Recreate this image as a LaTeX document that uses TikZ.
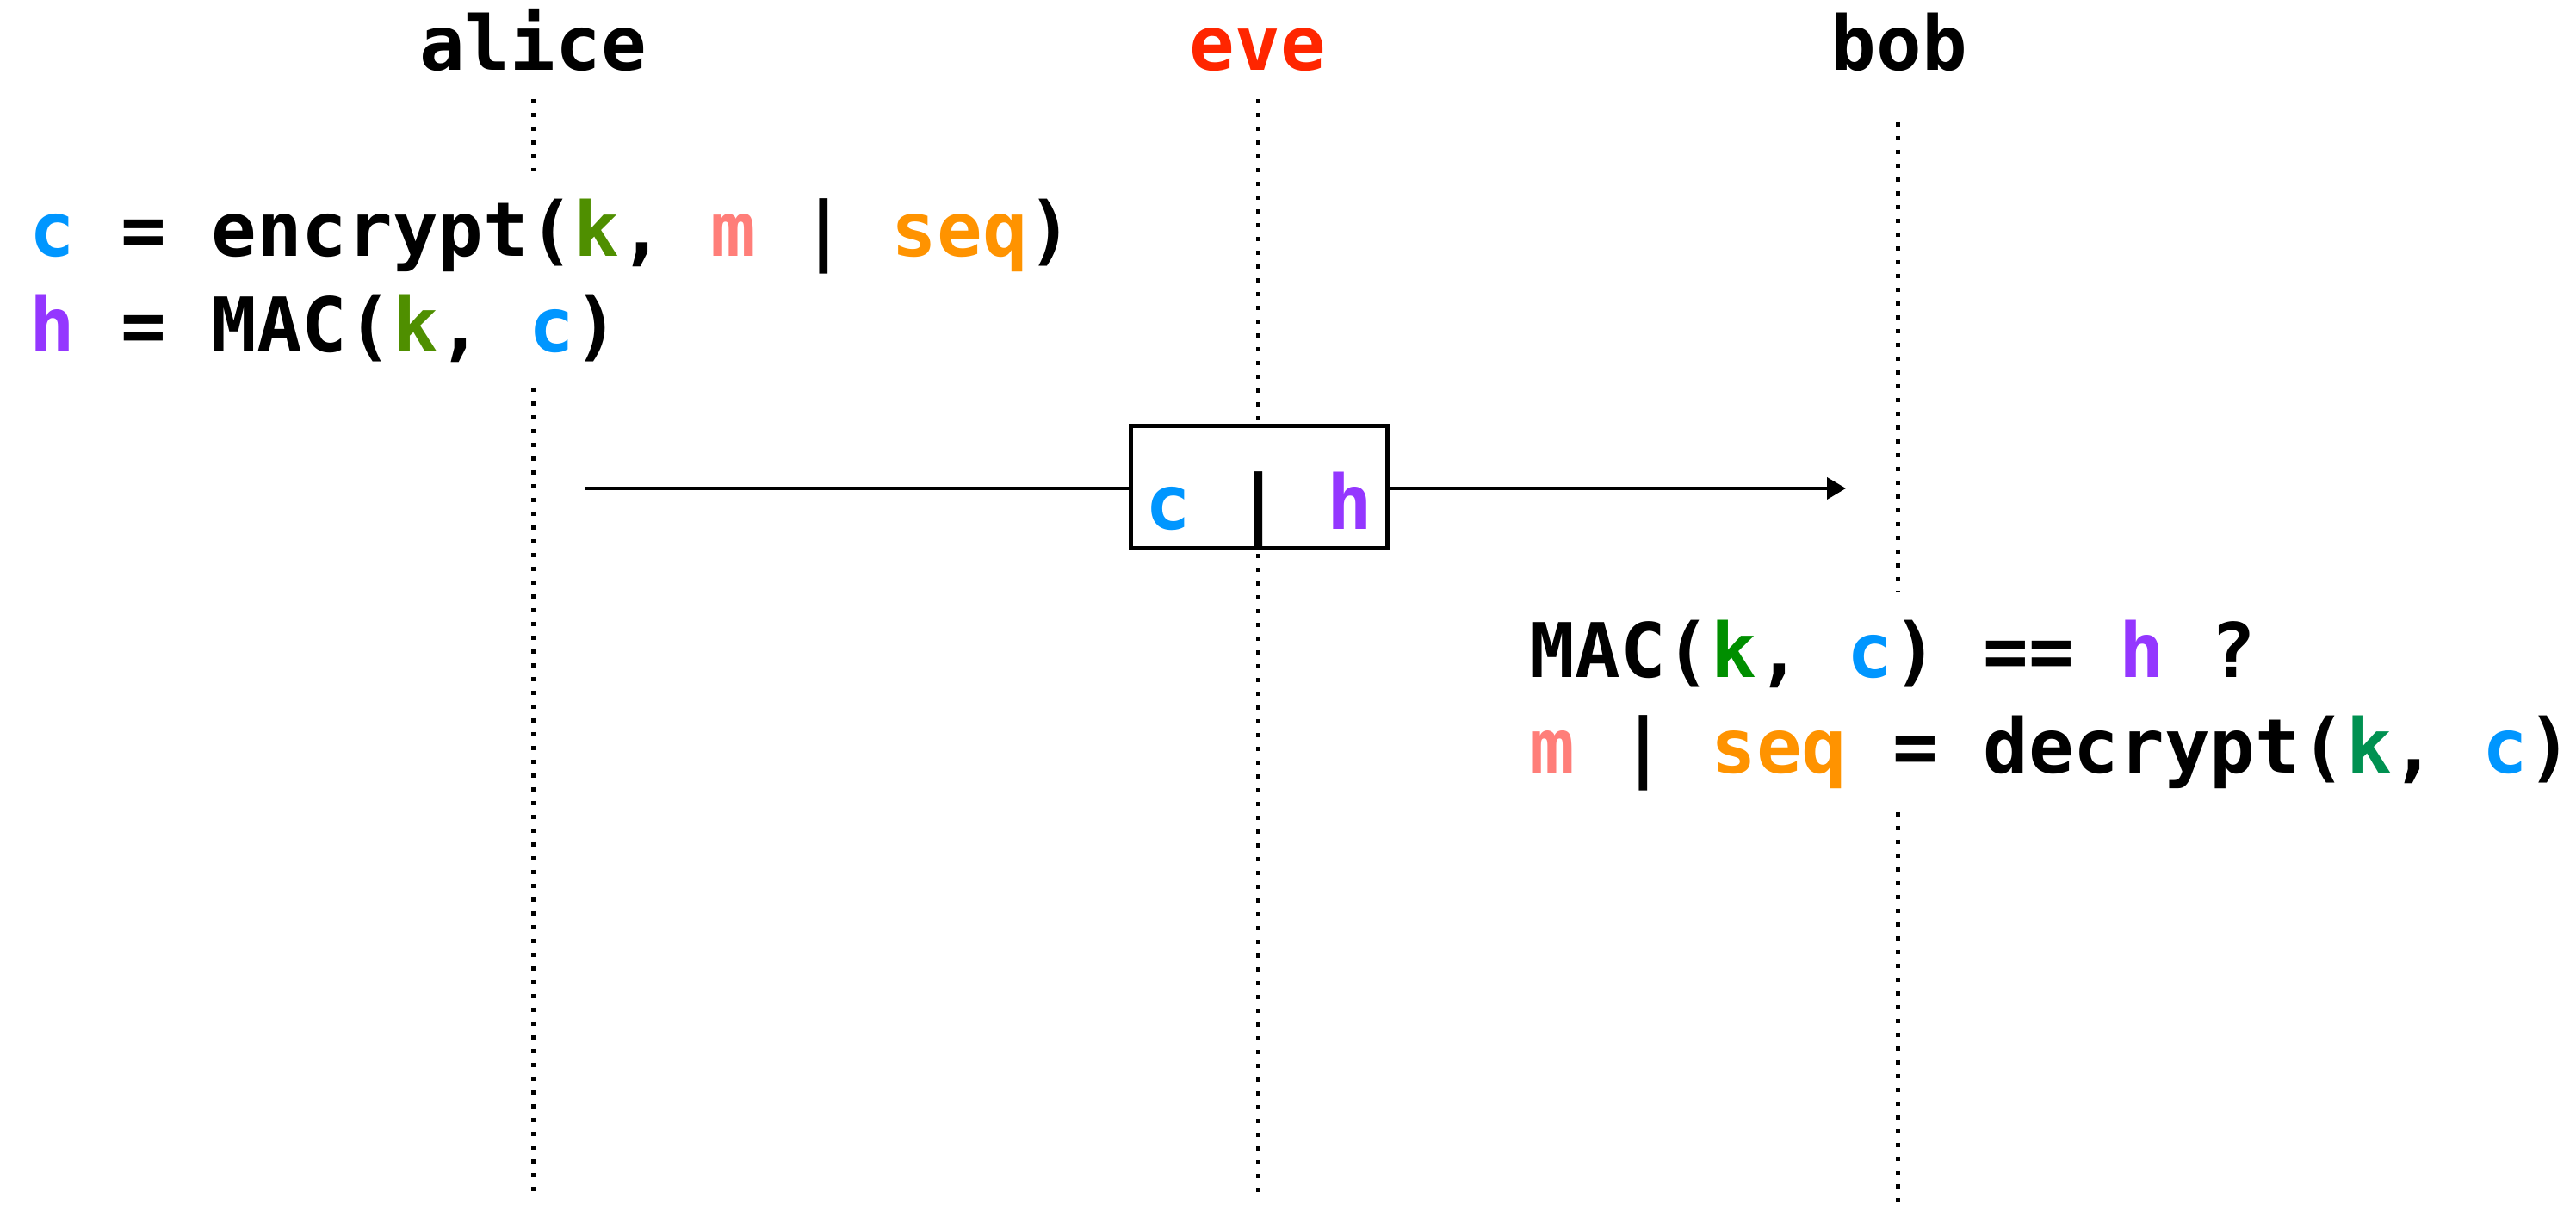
\documentclass[tikz,border=0pt]{standalone}
\usepackage{fontspec}
\setmonofont{DejaVu Sans Mono}
\usetikzlibrary{arrows.meta}

\definecolor{cblue}{RGB}{0,150,255}
\definecolor{hpurple}{RGB}{148,55,255}
\definecolor{kolive}{RGB}{79,143,0}
\definecolor{kgreen}{RGB}{0,143,0}
\definecolor{kteal}{RGB}{0,145,81}
\definecolor{msalmon}{RGB}{255,126,121}
\definecolor{seqorange}{RGB}{255,147,0}
\definecolor{evered}{RGB}{255,38,0}

\tikzset{
  code/.style={font=\ttfamily\bfseries\fontsize{24.9}{31.6}\selectfont, inner sep=0pt},
  lifeline/.style={line width=0.05cm, dash pattern=on 0.05cm off 0.11cm},
  msg/.style={line width=0.04cm, -{Triangle[length=0.22cm,width=0.25cm]}},
  packet/.style={code, draw, line width=0.05cm, fill=white, minimum width=2.98cm,
    minimum height=1.42cm, text height=1.1cm, text depth=0.12cm},
}

\begin{document}
\begin{tikzpicture}
    \useasboundingbox (0,0) rectangle (29.92,14.06);

    % Nodes
    \node[code, anchor=base] (A) at (6.19,13.24) {alice};
    \node[code, anchor=base, text=evered] (E) at (14.61,13.24) {eve};
    \node[code, anchor=base] (B) at (22.06,13.24) {bob};

    \node[code, anchor=base west] (enc) at (0.34,11.08)
      {\textcolor{cblue}{c} = encrypt(\textcolor{kolive}{k}, \textcolor{msalmon}{m} | \textcolor{seqorange}{seq})};
    \node[code, anchor=base west] (mac) at (0.34,9.97)
      {\textcolor{hpurple}{h} = MAC(\textcolor{kolive}{k}, \textcolor{cblue}{c})};
    \node[code, anchor=base west] (chk) at (17.76,6.19)
      {MAC(\textcolor{kgreen}{k}, \textcolor{cblue}{c}) == \textcolor{hpurple}{h} ?};
    \node[code, anchor=base west] (dec) at (17.76,5.08)
      {\textcolor{msalmon}{m} | \textcolor{seqorange}{seq} = decrypt(\textcolor{kteal}{k}, \textcolor{cblue}{c})};

    % Lifelines
    \coordinate (A1) at (6.19,12.91);
    \coordinate (A2) at (6.19,12.08);
    \coordinate (A3) at (6.19,9.56);
    \coordinate (A4) at (6.19,0.22);
    \coordinate (E1) at (14.61,12.91);
    \coordinate (E2) at (14.61,0.22);
    \coordinate (B1) at (22.04,12.64);
    \coordinate (B2) at (22.04,7.19);
    \coordinate (B3) at (22.04,4.63);
    \coordinate (B4) at (22.04,0);
    \draw[lifeline] (A1) -- (A2);
    \draw[lifeline] (A3) -- (A4);
    \draw[lifeline] (E1) -- (E2);
    \draw[lifeline] (B1) -- (B2);
    \draw[lifeline] (B3) -- (B4);

    % Arrows
    \coordinate (send) at (6.80,8.39);
    \coordinate (recv) at (21.44,8.39);
    \draw[msg] (send) -- (recv);
    \node[packet] (pkt) at (14.62,8.40) {\textcolor{cblue}{c} | \textcolor{hpurple}{h}};
\end{tikzpicture}
\end{document}
